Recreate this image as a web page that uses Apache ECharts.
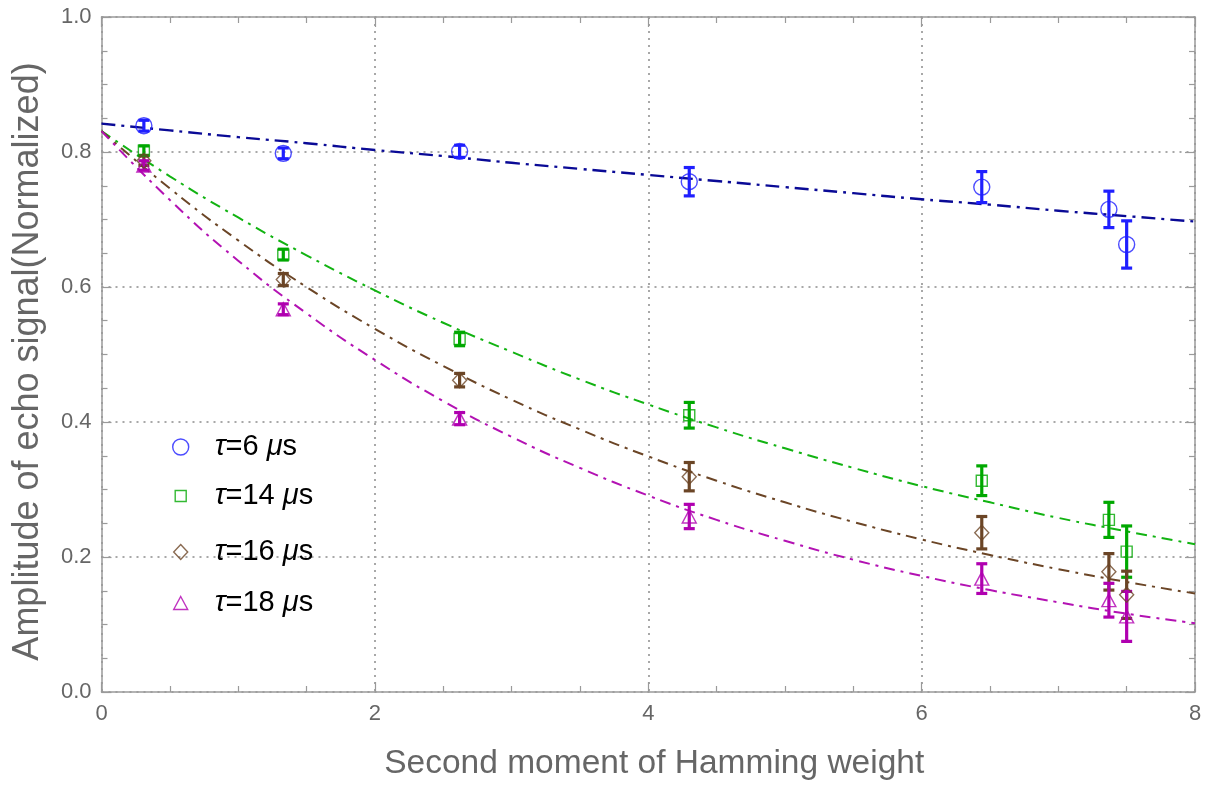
<!DOCTYPE html>
<html>
<head>
<meta charset="utf-8">
<style>
  html, body { margin: 0; padding: 0; background: #fff; }
  #chart { width: 1212px; height: 789px; }
</style>
<script src="https://cdn.jsdelivr.net/npm/echarts@6/dist/echarts.min.js"></script>
</head>
<body>
<div id="chart"></div>
<script>
// Measured points: second moment of Hamming weight vs. normalized echo amplitude
const xPoints = [0.31, 1.33, 2.62, 4.30, 6.44, 7.37, 7.50];

const tau6 = [0.839, 0.798, 0.801, 0.756, 0.748, 0.715, 0.663];
const tau6Err = [0.008, 0.008, 0.009, 0.021, 0.023, 0.027, 0.035];

const tau14 = [0.802, 0.648, 0.523, 0.410, 0.313, 0.255, 0.208];
const tau14Err = [0.007, 0.008, 0.010, 0.019, 0.022, 0.026, 0.038];

const tau16 = [0.787, 0.611, 0.462, 0.319, 0.236, 0.178, 0.144];
const tau16Err = [0.007, 0.009, 0.010, 0.021, 0.024, 0.027, 0.035];

const tau18 = [0.780, 0.567, 0.405, 0.260, 0.168, 0.136, 0.112];
const tau18Err = [0.007, 0.008, 0.009, 0.018, 0.022, 0.025, 0.037];

// Fitted decay curves, sampled every 0.5 from x = 0 to x = 8
const fitX = [0, 0.5, 1, 1.5, 2, 2.5, 3, 3.5, 4, 4.5, 5, 5.5, 6, 6.5, 7, 7.5, 8];
const fit6 = [0.842, 0.832, 0.822, 0.813, 0.803, 0.794, 0.784, 0.775, 0.766,
              0.757, 0.748, 0.739, 0.730, 0.722, 0.713, 0.705, 0.697];
const fit14 = [0.831, 0.764, 0.703, 0.647, 0.595, 0.547, 0.504, 0.463, 0.426,
               0.392, 0.361, 0.332, 0.305, 0.281, 0.258, 0.238, 0.219];
const fit16 = [0.831, 0.746, 0.669, 0.600, 0.538, 0.483, 0.433, 0.389, 0.349,
               0.313, 0.281, 0.252, 0.226, 0.203, 0.182, 0.163, 0.146];
const fit18 = [0.831, 0.729, 0.639, 0.561, 0.492, 0.431, 0.378, 0.332, 0.291,
               0.255, 0.224, 0.196, 0.172, 0.151, 0.133, 0.116, 0.102];

const seriesNames = ['τ=6 μs', 'τ=14 μs', 'τ=16 μs', 'τ=18 μs'];
const legendRich = {
  'τ=6 μs': '{i|τ}=6 {i|μ}s',
  'τ=14 μs': '{i|τ}=14 {i|μ}s',
  'τ=16 μs': '{i|τ}=16 {i|μ}s',
  'τ=18 μs': '{i|τ}=18 {i|μ}s'
};

const FONT = '"Liberation Sans", Arial, Helvetica, sans-serif';
const AXIS_GRAY = '#9a9a9a';
const TEXT_GRAY = '#666666';

const groups = [
  { name: seriesNames[0], y: tau6, err: tau6Err, fit: fit6,
    mark: '#1f1fff', line: '#0a0a96', symbol: 'circle', size: 16, lw: 2.4,
    dash: [14, 6, 3, 6], legendTop: 425 },
  { name: seriesNames[1], y: tau14, err: tau14Err, fit: fit14,
    mark: '#00a800', line: '#12b312', symbol: 'rect', size: 11, lw: 2,
    dash: [11, 6, 3, 6], legendTop: 474 },
  { name: seriesNames[2], y: tau16, err: tau16Err, fit: fit16,
    mark: '#6b4526', line: '#6b4526', symbol: 'diamond', size: [14, 15], lw: 2,
    dash: [11, 6, 3, 6], legendTop: 530 },
  { name: seriesNames[3], y: tau18, err: tau18Err, fit: fit18,
    mark: '#b000b0', line: '#b312b3', symbol: 'triangle', size: [14, 13], lw: 2,
    dash: [11, 6, 3, 6], legendTop: 581 }
];

const pairs = (xs, ys) => xs.map((x, i) => [x, ys[i]]);

function errorBars(g) {
  return {
    type: 'custom',
    name: g.name + ' err',
    z: 3,
    silent: true,
    encode: { x: 0, y: [1, 2] },
    data: xPoints.map((x, i) => [x, g.y[i] - g.err[i], g.y[i] + g.err[i]]),
    renderItem: function (params, api) {
      const lo = api.coord([api.value(0), api.value(1)]);
      const hi = api.coord([api.value(0), api.value(2)]);
      const w = 5.5;
      const st = { stroke: g.mark, lineWidth: 3.2 };
      return {
        type: 'group',
        children: [
          { type: 'line', shape: { x1: lo[0], y1: lo[1], x2: hi[0], y2: hi[1] }, style: st },
          { type: 'line', shape: { x1: lo[0] - w, y1: lo[1], x2: lo[0] + w, y2: lo[1] }, style: st },
          { type: 'line', shape: { x1: hi[0] - w, y1: hi[1], x2: hi[0] + w, y2: hi[1] }, style: st }
        ]
      };
    }
  };
}

const series = [];
groups.forEach(g => {
  series.push({
    type: 'line',
    name: g.name + ' fit',
    data: pairs(fitX, g.fit),
    smooth: true,
    showSymbol: false,
    silent: true,
    z: 2,
    lineStyle: { color: g.line, width: g.lw, type: g.dash }
  });
});
groups.forEach(g => series.push(errorBars(g)));
groups.forEach(g => {
  series.push({
    type: 'scatter',
    name: g.name,
    data: pairs(xPoints, g.y),
    symbol: g.symbol,
    symbolSize: g.size,
    z: 4,
    itemStyle: { color: 'rgba(255,255,255,0)', borderColor: g.mark, borderWidth: 1.4 }
  });
});

const legends = groups.map(g => {
  const w = Array.isArray(g.size) ? g.size[0] : g.size;
  const h = Array.isArray(g.size) ? g.size[1] : g.size;
  return {
    data: [{ name: g.name, icon: g.symbol,
      itemStyle: { color: 'rgba(255,255,255,0)', borderColor: g.mark, borderWidth: 1.4 } }],
    left: 175 - w / 2,
    top: g.legendTop,
    itemWidth: w,
    itemHeight: h,
    selectedMode: false,
    formatter: name => legendRich[name],
    textStyle: {
      fontFamily: FONT, fontSize: 29, color: '#000', lineHeight: 34,
      padding: [0, 0, 0, 29 - w / 2],
      rich: { i: { fontFamily: FONT, fontSize: 29, fontStyle: 'italic', color: '#000', lineHeight: 34 } }
    }
  };
});

const gridLine = { show: true, lineStyle: { color: '#a8a8a8', width: 2, type: [2, 5] } };

function mainAxis(extra) {
  return Object.assign({
    type: 'value',
    axisLine: { show: true, onZero: false, lineStyle: { color: AXIS_GRAY, width: 1.5 } },
    axisTick: { show: true, inside: true, length: 10, lineStyle: { color: AXIS_GRAY, width: 1.2 } },
    minorTick: { show: true, splitNumber: 4, length: 6, lineStyle: { color: AXIS_GRAY, width: 1.2 } },
    axisLabel: { fontFamily: FONT, fontSize: 22, color: TEXT_GRAY },
    splitLine: gridLine
  }, extra);
}

const option = {
  backgroundColor: '#ffffff',
  animation: false,
  grid: { left: 101.5, right: 17, top: 17, bottom: 97, containLabel: false },
  legend: legends,
  xAxis: [
    mainAxis({
      min: 0, max: 8, interval: 2, position: 'bottom',
      axisLabel: { fontFamily: FONT, fontSize: 22, color: TEXT_GRAY, margin: 11 },
      name: 'Second moment of Hamming weight',
      nameLocation: 'middle', nameGap: 55,
      nameTextStyle: { fontFamily: FONT, fontSize: 33.5, color: TEXT_GRAY, padding: [0, 0, 0, 12] }
    }),
    mainAxis({
      min: 0, max: 8, interval: 2, position: 'top',
      axisLabel: { show: false }, splitLine: { show: false }
    })
  ],
  yAxis: [
    mainAxis({
      min: 0, max: 1, interval: 0.2, position: 'left',
      axisLabel: { fontFamily: FONT, fontSize: 22, color: TEXT_GRAY, margin: 10,
        formatter: v => v.toFixed(1) },
      name: 'Amplitude of echo signal(Normalized)',
      nameLocation: 'middle', nameGap: 55,
      nameTextStyle: { fontFamily: FONT, fontSize: 36, color: TEXT_GRAY, padding: [0, 14, 0, 0] }
    }),
    mainAxis({
      min: 0, max: 1, interval: 0.2, position: 'right',
      axisLabel: { show: false }, splitLine: { show: false }
    })
  ],
  series: series
};

const chart = echarts.init(document.getElementById('chart'), null, { renderer: 'canvas' });
chart.setOption(option);
</script>
</body>
</html>
